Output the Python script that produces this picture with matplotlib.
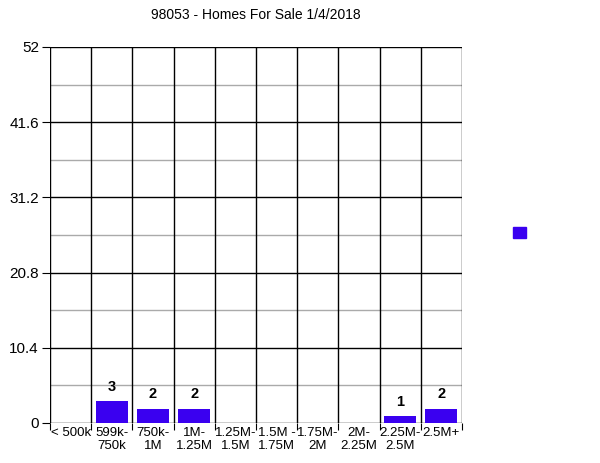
import numpy as np
import matplotlib
matplotlib.use('Agg')
import matplotlib.pyplot as plt
from matplotlib.patches import Patch

plt.rcParams['font.family'] = ['Liberation Sans', 'DejaVu Sans']

# Dados
categorias = ['< 500k', '599k-\n750k', '750k-\n1M', '1M-\n1.25M', '1.25M-\n1.5M',
              '1.5M -\n1.75M', '1.75M-\n2M', '2M-\n2.25M', '2.25M-\n2.5M', '2.5M+']
valores = [0, 3, 2, 2, 0, 0, 0, 0, 1, 2]
yticks = [0, 10.4, 20.8, 31.2, 41.6, 52]
titulo = '98053 - Homes For Sale 1/4/2018'

cor = '#3a00f0'

fig = plt.figure(figsize=(6, 4.63), dpi=100)
ax = fig.add_axes([50/600, 40/463, 412/600, 376/463])

x = np.arange(len(categorias))
ax.bar(x, valores, width=0.78, color=cor, zorder=3)

for xi, v in zip(x, valores):
    if v > 0:
        ax.text(xi, v + 1.0, str(v), ha='center', va='bottom',
                fontsize=10.5, fontweight='bold')

ax.set_xlim(-0.5, len(categorias) - 0.5)
ax.set_ylim(0, 52)

# grade horizontal: principais pretas, secundárias cinza
ax.set_yticks(yticks)
ax.set_yticklabels(['0', '10.4', '20.8', '31.2', '41.6', '52'], fontsize=11)
for y in yticks:
    ax.axhline(y, color='black', linewidth=1, zorder=1)
for y in np.array(yticks[:-1]) + 5.2:
    ax.axhline(y, color='#aaaaaa', linewidth=1, zorder=1)

# separadores verticais
for b in np.arange(-0.5, len(categorias), 1.0):
    ax.axvline(b, color='black', linewidth=1, zorder=2)
ax.set_xticks(np.arange(-0.5, len(categorias), 1.0), minor=False)
ax.set_xticklabels([])
ax.set_xticks(x, minor=True)
ax.set_xticklabels(categorias, minor=True, fontsize=9.5, linespacing=1.05)
ax.tick_params(axis='x', which='major', length=5, color='black')
ax.tick_params(axis='x', which='minor', length=0, pad=3)
ax.tick_params(axis='y', length=6, color='black', pad=2)

for s in ax.spines.values():
    s.set_visible(False)

ax.set_title(titulo, fontsize=10, pad=20)

ax.legend(handles=[Patch(color=cor)], labels=[''], loc='center',
          bbox_to_anchor=(1.14, 0.505), frameon=False,
          handlelength=0.9, handleheight=0.9, handletextpad=0)

plt.savefig('out.png', dpi=100)
